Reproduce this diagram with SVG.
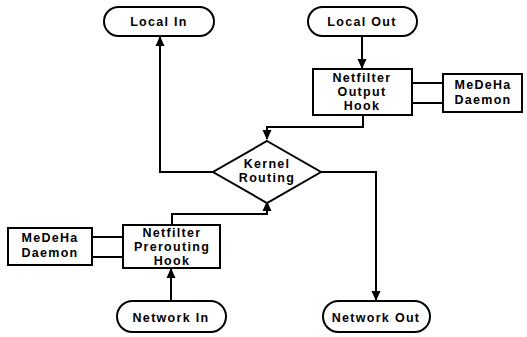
<svg xmlns="http://www.w3.org/2000/svg" width="527" height="337" viewBox="0 0 527 337">
<defs>
<style>
.s{fill:#fff;stroke:#000;stroke-width:2}
.c{fill:none;stroke:#000;stroke-width:2}
text{font-family:"Liberation Sans",Arial,sans-serif;font-weight:bold;font-size:12.5px;letter-spacing:1.3px;text-anchor:middle;fill:#000}
</style>
<marker id="a" markerWidth="10" markerHeight="10" refX="9" refY="5" orient="auto" markerUnits="userSpaceOnUse" viewBox="0 0 10 10">
<path d="M0,0.5 L10,5 L0,9.5 Z" fill="#000"/>
</marker>
</defs>
<rect width="527" height="337" fill="#fff"/>
<g id="connectors">
<path class="c" d="M362,36 V68" marker-end="url(#a)"/>
<path class="c" d="M363,115 V127 H267 V139" marker-end="url(#a)"/>
<path class="c" d="M213,172 H160 V37" marker-end="url(#a)"/>
<path class="c" d="M321,172 H376 V300" marker-end="url(#a)"/>
<path class="c" d="M172,225 V214 H267 V202" marker-end="url(#a)"/>
<path class="c" d="M171,301 V269" marker-end="url(#a)"/>
<path class="c" d="M402,83 H443 M402,103 H443"/>
<path class="c" d="M92,237 H133 M92,257 H133"/>
</g>
<g id="local-in"><rect class="s" x="104" y="7" width="110" height="29" rx="14.5"/><text x="159" y="26">Local In</text></g>
<g id="local-out"><rect class="s" x="308" y="7" width="109" height="29" rx="14.5"/><text x="362" y="26">Local Out</text></g>
<g id="output-hook"><rect class="s" x="313" y="69" width="99" height="46"/><text x="362" y="82">Netfilter</text><text x="362" y="96">Output</text><text x="362" y="110">Hook</text></g>
<g id="medeha-out"><rect class="s" x="443" y="74" width="79" height="38"/><text x="483" y="89">MeDeHa</text><text x="483" y="104">Daemon</text></g>
<g id="kernel-routing"><path class="s" d="M267,141 L321,172 L267,203 L213,172 Z"/><text x="267" y="168">Kernel</text><text x="267" y="182">Routing</text></g>
<g id="prerouting-hook"><rect class="s" x="123" y="225" width="97" height="43"/><text x="172" y="237">Netfilter</text><text x="172" y="251">Prerouting</text><text x="172" y="265">Hook</text></g>
<g id="medeha-in"><rect class="s" x="8" y="228" width="84" height="37"/><text x="50" y="242">MeDeHa</text><text x="50" y="257">Daemon</text></g>
<g id="network-in"><rect class="s" x="117" y="301" width="109" height="31" rx="15.5"/><text x="171" y="322">Network In</text></g>
<g id="network-out"><rect class="s" x="323" y="301" width="107" height="31" rx="15.5"/><text x="376" y="322">Network Out</text></g>
</svg>
